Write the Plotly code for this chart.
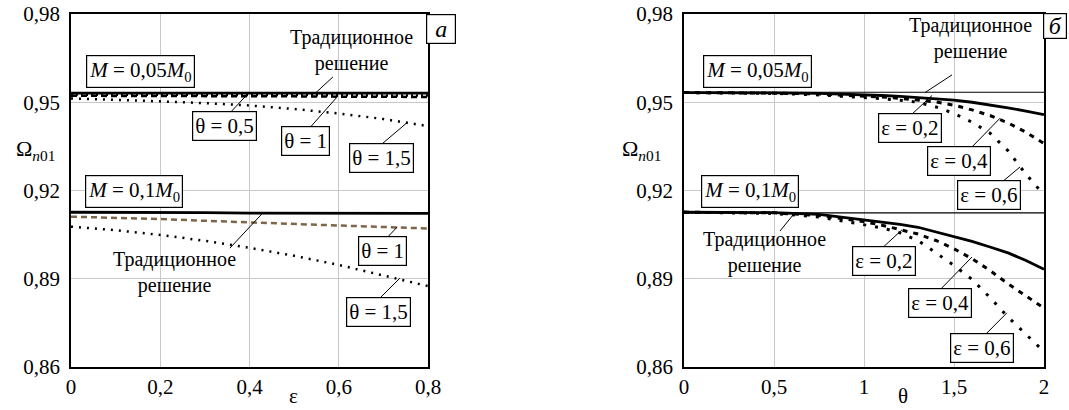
import plotly.graph_objects as go

# ---------------- data ----------------
eps = [0, 0.1, 0.2, 0.3, 0.4, 0.5, 0.6, 0.7, 0.8]
# left panel, M = 0.05 M0
trad_a_005 = [0.9531, 0.9531, 0.9531, 0.9531, 0.9531, 0.9531, 0.9531, 0.9531, 0.9531]
th05_a_005 = [0.9526, 0.9526, 0.9526, 0.9525, 0.9525, 0.9524, 0.9524, 0.9523, 0.9523]
th1_a_005 = [0.9522, 0.9522, 0.9521, 0.9521, 0.9520, 0.9520, 0.9519, 0.9519, 0.9518]
th15_a_005 = [0.9513, 0.9509, 0.9503, 0.9497, 0.9489, 0.9477, 0.9462, 0.9443, 0.9419]
# left panel, M = 0.1 M0
trad_a_01 = [0.9126, 0.9126, 0.9126, 0.9125, 0.9123, 0.9123, 0.9122, 0.9122, 0.9122]
th1_a_01 = [0.9111, 0.9108, 0.9103, 0.9097, 0.9091, 0.9086, 0.9081, 0.9076, 0.9071]
th15_a_01 = [0.9077, 0.9065, 0.9049, 0.9029, 0.9005, 0.8978, 0.8947, 0.8910, 0.8875]

theta = [0, 0.25, 0.5, 0.75, 1.0, 1.1, 1.2, 1.3, 1.4, 1.5, 1.6, 1.7, 1.8, 1.9, 2.0]
# right panel, M = 0.05 M0
trad_b_005 = [0.9534, 0.9534, 0.9534, 0.9534, 0.9534, 0.9534, 0.9534, 0.9534, 0.9534, 0.9534, 0.9534, 0.9534, 0.9534, 0.9534, 0.9534]
e02_b_005 = [0.9533, 0.9533, 0.9532, 0.9530, 0.9526, 0.9523, 0.9520, 0.9516, 0.9512, 0.9507, 0.9500, 0.9491, 0.9481, 0.9470, 0.9458]
e04_b_005 = [0.9533, 0.9533, 0.9531, 0.9528, 0.9522, 0.9518, 0.9513, 0.9507, 0.9501, 0.9490, 0.9474, 0.9455, 0.9430, 0.9398, 0.9360]
e06_b_005 = [0.9533, 0.9532, 0.9530, 0.9525, 0.9517, 0.9512, 0.9507, 0.9500, 0.9484, 0.9462, 0.9432, 0.9395, 0.9335, 0.9255, 0.9185]
# right panel, M = 0.1 M0
trad_b_01 = [0.9124, 0.9124, 0.9124, 0.9124, 0.9124, 0.9124, 0.9124, 0.9124, 0.9124, 0.9124, 0.9124, 0.9124, 0.9124, 0.9124, 0.9124]
e02_b_01 = [0.9126, 0.9126, 0.9125, 0.9119, 0.9101, 0.9093, 0.9085, 0.9075, 0.9059, 0.9043, 0.9027, 0.9008, 0.8988, 0.8962, 0.8932]
e04_b_01 = [0.9126, 0.9126, 0.9124, 0.9115, 0.9094, 0.9082, 0.9067, 0.9052, 0.9030, 0.9002, 0.8968, 0.8928, 0.8883, 0.8843, 0.8800]
e06_b_01 = [0.9126, 0.9125, 0.9122, 0.9110, 0.9084, 0.9073, 0.9056, 0.9030, 0.8988, 0.8945, 0.8898, 0.8836, 0.8770, 0.8710, 0.8652]

y_ticks = [0.86, 0.89, 0.92, 0.95, 0.98]
y_ticktext = ["0,86", "0,89", "0,92", "0,95", "0,98"]
eps_ticks = [0, 0.2, 0.4, 0.6, 0.8]
eps_ticktext = ["0", "0,2", "0,4", "0,6", "0,8"]
th_ticks = [0, 0.5, 1, 1.5, 2]
th_ticktext = ["0", "0,5", "1", "1,5", "2"]

FONT = "Liberation Serif"
BROWN = "#7d6648"

fig = go.Figure()

def add(x, y, xa, ya, width, dash, color="black"):
    fig.add_trace(go.Scatter(x=x, y=y, xaxis=xa, yaxis=ya, mode="lines",
                             line=dict(color=color, width=width, dash=dash),
                             showlegend=False, hoverinfo="skip"))

# left
add(eps, th15_a_005, "x", "y", 2.5, "2px,6px")
add(eps, th1_a_005, "x", "y", 2.5, "6px,4px")
add(eps, th05_a_005, "x", "y", 2.5, "2px,3px")
add(eps, trad_a_005, "x", "y", 2.8, "solid")
add(eps, th15_a_01, "x", "y", 2.5, "2px,6px")
add(eps, th1_a_01, "x", "y", 2.5, "6px,4px", BROWN)
add(eps, trad_a_01, "x", "y", 2.8, "solid")
# right
add(theta, trad_b_005, "x2", "y2", 1.2, "solid")
add(theta, trad_b_01, "x2", "y2", 1.2, "solid")
add(theta, e06_b_005, "x2", "y2", 3, "3px,9px")
add(theta, e04_b_005, "x2", "y2", 3, "5px,6px")
add(theta, e02_b_005, "x2", "y2", 2.8, "solid")
add(theta, e06_b_01, "x2", "y2", 3, "3px,9px")
add(theta, e04_b_01, "x2", "y2", 3, "5px,6px")
add(theta, e02_b_01, "x2", "y2", 2.8, "solid")

axis_common = dict(showline=True, linecolor="black", linewidth=1.5, mirror=True,
                   showgrid=True, gridcolor="#c8c8c8", gridwidth=1, zeroline=False,
                   automargin=False, ticks="",
                   tickfont=dict(family=FONT, size=21, color="black"))

W, H = 1069, 410
ydom = [1 - 367 / H, 1 - 14 / H]
fig.update_layout(
    template="none",
    width=W, height=H, margin=dict(l=0, r=0, t=0, b=0, pad=0), autosize=False,
    paper_bgcolor="white", plot_bgcolor="white",
    font=dict(family=FONT, size=20, color="black"),
    xaxis=dict(domain=[71 / W, 428 / W], range=[0, 0.8], tickvals=eps_ticks,
               ticktext=eps_ticktext, anchor="y", **axis_common),
    yaxis=dict(domain=ydom, range=[0.86, 0.98], tickvals=y_ticks, ticktext=y_ticktext,
               anchor="x", ticklabelstandoff=5, **axis_common),
    xaxis2=dict(domain=[684 / W, 1044 / W], range=[0, 2], tickvals=th_ticks,
                ticktext=th_ticktext, anchor="y2", **axis_common),
    yaxis2=dict(domain=ydom, range=[0.86, 0.98], tickvals=y_ticks, ticktext=y_ticktext,
                anchor="x2", ticklabelstandoff=5, **axis_common),
)

ann = []
def text(x, y, s, xr="x", yr="y", size=21, box=False, xanchor="center", yanchor="middle"):
    d = dict(x=x, y=y, xref=xr, yref=yr, text=s, showarrow=False, xanchor=xanchor,
             yanchor=yanchor, font=dict(family=FONT, size=size, color="black"))
    if box:
        d.update(bordercolor="black", borderwidth=1.2, borderpad=2, bgcolor="white")
    ann.append(d)

shapes = []
def leader(x0, y0, x1, y1, xr="x", yr="y"):
    shapes.append(dict(type="line", xref=xr, yref=yr, x0=x0, y0=y0, x1=x1, y1=y1,
                       line=dict(color="black", width=1)))

M005 = "<i>M</i> = 0,05<i>M</i><sub>0</sub>"
M01 = "<i>M</i> = 0,1<i>M</i><sub>0</sub>"
TRAD = "Традиционное<br>решение"

# left panel labels
text(0.156, 0.9603, M005, box=True)
text(0.141, 0.9197, M01, box=True)
text(0.628, 0.9676, TRAD, size=20)
leader(0.587, 0.9586, 0.549, 0.9533)
text(0.343, 0.9418, "θ = 0,5", box=True)
leader(0.352, 0.9457, 0.394, 0.9525)
text(0.526, 0.9367, "θ = 1", box=True)
leader(0.531, 0.9406, 0.598, 0.9521)
text(0.695, 0.9312, "θ = 1,5", box=True)
leader(0.699, 0.9361, 0.755, 0.9433)
text(0.699, 0.8996, "θ = 1", box=True)
leader(0.708, 0.9039, 0.731, 0.9076)
text(0.688, 0.8788, "θ = 1,5", box=True)
leader(0.692, 0.8834, 0.737, 0.8902)
text(0.233, 0.8921, TRAD, size=20)
leader(0.356, 0.9004, 0.430, 0.9124)

# right panel labels
text(0.408, 0.9603, M005, "x2", "y2", box=True)
text(0.367, 0.9197, M01, "x2", "y2", box=True)
text(1.591, 0.9718, TRAD, "x2", "y2", size=20)
leader(1.489, 0.9593, 1.339, 0.9533, "x2", "y2")
text(1.253, 0.9411, "ε = 0,2", "x2", "y2", box=True)
leader(1.267, 0.9460, 1.378, 0.9523, "x2", "y2")
text(1.528, 0.9299, "ε = 0,4", "x2", "y2", box=True)
leader(1.600, 0.9348, 1.756, 0.9446, "x2", "y2")
text(1.694, 0.9186, "ε = 0,6", "x2", "y2", box=True)
leader(1.767, 0.9229, 1.867, 0.9280, "x2", "y2")
text(0.447, 0.8989, TRAD, "x2", "y2", size=20)
leader(0.533, 0.9062, 0.606, 0.9117, "x2", "y2")
text(1.111, 0.8959, "ε = 0,2", "x2", "y2", box=True)
leader(1.100, 0.9004, 1.211, 0.9066, "x2", "y2")
text(1.422, 0.8816, "ε = 0,4", "x2", "y2", box=True)
leader(1.422, 0.8862, 1.600, 0.8974, "x2", "y2")
text(1.658, 0.8663, "ε = 0,6", "x2", "y2", box=True)
leader(1.661, 0.8702, 1.794, 0.8784, "x2", "y2")

# axis titles and panel letters (paper coordinates)
text(35 / W, 1 - 150 / H, "Ω<sub><i>n</i>01</sub>", "paper", "paper", size=22)
text(641 / W, 1 - 150 / H, "Ω<sub><i>n</i>01</sub>", "paper", "paper", size=22)
text(293 / W, 0, "ε", "paper", "paper", yanchor="bottom")
text(903 / W, 0, "θ", "paper", "paper", yanchor="bottom")
ann.append(dict(x=441 / W, y=1 - 28.5 / H, xref="paper", yref="paper", text="<i>а</i>",
                xanchor="center", yanchor="middle",
                showarrow=False, font=dict(family=FONT, size=24, color="black"),
                bordercolor="black", borderwidth=1.2, borderpad=2, bgcolor="white",
                width=24, height=24))
ann.append(dict(x=1055 / W, y=1 - 25.5 / H, xref="paper", yref="paper", text="<i>б</i>",
                xanchor="center", yanchor="middle",
                showarrow=False, font=dict(family=FONT, size=24, color="black"),
                bordercolor="black", borderwidth=1.2, borderpad=1, bgcolor="white",
                width=20, height=22))

fig.update_layout(annotations=ann, shapes=shapes)
fig.write_html("out.html")
